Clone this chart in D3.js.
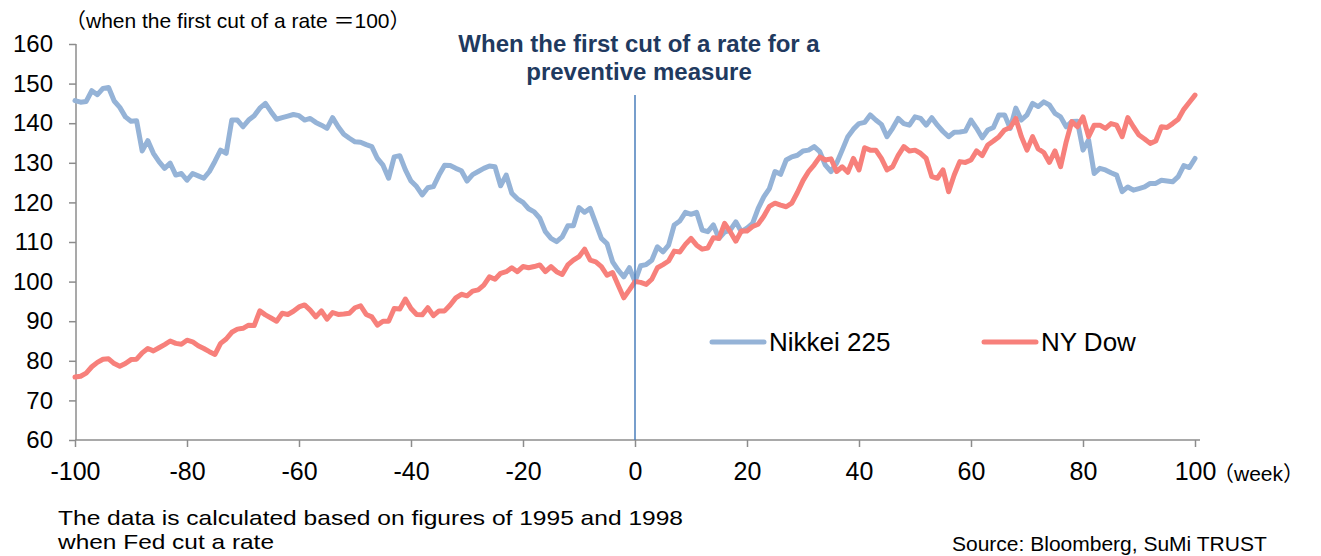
<!DOCTYPE html>
<html>
<head>
<meta charset="utf-8">
<script src="https://cdn.jsdelivr.net/npm/d3@7"></script>
<style>
  body { margin: 0; background: #fff; }
  svg text { font-family: Arial, "Liberation Sans", "Noto Sans CJK JP", sans-serif; }
</style>
</head>
<body>
<div id="chart"></div>
<script>
// Size of the picture
let width = 1321;
let height = 556;

// Weeks from the first cut of a rate (0), one value per week
let weeks = d3.range(-100, 101);

// Nikkei 225, first cut of a rate = 100
let nikkei = [
  145.7, 145.3, 145.5, 148.2, 147.2, 148.8, 149.0, 145.6, 144.0, 141.6,
  140.5, 140.6, 133.0, 135.6, 132.4, 130.3, 128.6, 129.9, 126.9, 127.3,
  125.6, 127.3, 126.7, 126.1, 127.8, 130.4, 133.2, 132.4, 140.8, 140.8,
  139.1, 140.8, 141.9, 143.8, 145.0, 142.9, 141.0, 141.4, 141.8, 142.2,
  141.9, 140.8, 141.2, 140.2, 139.5, 138.7, 141.4, 139.1, 137.2, 136.2,
  135.3, 135.2, 134.6, 134.1, 131.1, 129.4, 126.1, 131.5, 131.8, 128.2,
  125.4, 124.0, 121.9, 123.7, 124.0, 126.9, 129.4, 129.3, 128.6, 128.0,
  125.4, 127.0, 127.8, 128.6, 129.2, 129.0, 124.2, 126.9, 122.3, 120.9,
  120.0, 118.4, 117.6, 116.0, 112.6, 110.9, 110.1, 111.3, 114.1, 114.1,
  118.7, 117.5, 118.5, 114.7, 110.9, 109.6, 105.0, 102.9, 101.2, 103.5,
  100.0, 104.0, 104.3, 105.4, 108.8, 107.5, 109.2, 114.3, 115.3, 117.5,
  117.0, 117.5, 113.0, 112.6, 114.3, 110.9, 112.5, 113.0, 115.1, 112.6,
  113.5, 114.7, 118.5, 121.4, 123.5, 127.8, 127.1, 130.7, 131.5, 131.9,
  133.0, 133.2, 134.1, 132.8, 129.4, 127.8, 129.9, 133.2, 136.6, 138.5,
  139.9, 140.2, 142.1, 140.8, 139.7, 136.6, 138.7, 141.2, 139.9, 139.5,
  141.6, 141.2, 139.5, 141.4, 139.5, 137.9, 136.6, 137.7, 137.8, 138.0,
  140.8, 138.7, 136.3, 138.3, 138.9, 142.1, 142.1, 138.7, 143.8, 140.8,
  142.1, 145.0, 144.2, 145.4, 144.6, 142.5, 141.6, 139.1, 140.4, 140.5,
  133.2, 135.8, 127.3, 128.6, 128.2, 127.5, 126.9, 122.7, 123.9, 123.1,
  123.5, 123.9, 124.8, 124.8, 125.6, 125.4, 125.2, 126.5, 129.3, 128.8,
  131.1
];

// NY Dow, first cut of a rate = 100
let dow = [
  75.9, 76.1, 76.9, 78.5, 79.6, 80.4, 80.5, 79.3, 78.6, 79.3,
  80.3, 80.4, 82.0, 83.1, 82.5, 83.3, 84.1, 85.0, 84.4, 84.2,
  85.2, 84.8, 83.8, 83.1, 82.3, 81.6, 84.4, 85.5, 87.2, 88.0,
  88.2, 89.0, 88.9, 92.6, 91.6, 90.8, 90.0, 92.0, 91.7, 92.5,
  93.6, 94.1, 92.8, 91.1, 92.6, 90.5, 92.2, 91.7, 91.8, 92.0,
  93.4, 93.9, 91.7, 91.1, 89.0, 90.0, 90.0, 93.2, 93.1, 95.6,
  93.2, 91.7, 91.6, 93.4, 91.4, 92.6, 92.6, 94.1, 95.9, 96.8,
  96.4, 97.6, 97.9, 99.1, 101.2, 100.6, 102.1, 102.5, 103.5, 102.5,
  103.8, 103.5, 103.8, 104.2, 102.5, 103.8, 102.5, 101.8, 104.2, 105.4,
  106.3, 108.2, 105.4, 105.0, 103.8, 101.6, 102.3, 99.1, 95.9, 97.9,
  100.0, 99.8, 99.3, 100.6, 103.5, 104.3, 105.2, 107.7, 107.5, 109.4,
  110.9, 109.2, 108.2, 108.5, 111.1, 110.9, 114.7, 112.6, 110.2, 112.8,
  112.8, 113.9, 114.5, 116.5, 119.0, 119.8, 119.3, 118.9, 119.8, 122.5,
  125.5, 127.8, 129.5, 131.5, 130.7, 131.0, 127.8, 129.0, 127.6, 131.1,
  128.2, 133.8, 133.2, 133.2, 131.1, 128.2, 129.0, 131.9, 134.1, 133.0,
  133.2, 132.4, 131.1, 126.5, 126.1, 128.2, 122.7, 126.9, 130.3, 130.1,
  130.7, 133.0, 131.8, 134.5, 135.5, 136.6, 138.3, 138.9, 141.2, 136.6,
  133.2, 136.6, 133.5, 132.6, 130.1, 133.0, 129.0, 135.3, 140.4, 139.1,
  141.6, 136.6, 139.5, 139.5, 138.7, 139.9, 139.5, 136.6, 141.4, 139.1,
  137.0, 136.0, 134.9, 135.5, 139.1, 138.9, 139.9, 141.0, 143.5, 145.3,
  147.1
];

let seriesNames = ["Nikkei 225", "NY Dow"];
let seriesColors = ["#95b3d7", "#f7807b"];

// Tick labels
let xTicks = [-100, -80, -60, -40, -20, 0, 20, 40, 60, 80, 100];
let yTicks = [60, 70, 80, 90, 100, 110, 120, 130, 140, 150, 160];

let x = d3.scaleLinear().domain([-100, 100]).range([75, 1195]);
let y = d3.scaleLinear().domain([60, 160]).range([440, 44]);

let svg = d3.select('#chart')
  .append('svg')
  .attr('width', width)
  .attr('height', height);

let axisColor = '#8c8c8c';

// Y axis
let yAxis = svg.append('g')
  .attr('transform', 'translate(76,0)')
  .call(d3.axisLeft(y).tickValues(yTicks).tickSize(7).tickPadding(16)
    .tickFormat(function(d) { return String(d); }));
yAxis.select('.domain').remove();
yAxis.selectAll('line').attr('stroke', axisColor).attr('stroke-width', 1.5);
yAxis.selectAll('text').attr('font-size', 24).attr('fill', '#000')
  .style('font-family', 'Arial, "Liberation Sans", sans-serif');
yAxis.append('line')
  .attr('x1', 0).attr('x2', 0)
  .attr('y1', y(160)).attr('y2', y(60))
  .attr('stroke', axisColor).attr('stroke-width', 1.5);

// X axis (plain hyphen for negative labels)
let xAxis = svg.append('g')
  .attr('transform', 'translate(0,440)')
  .call(d3.axisBottom(x).tickValues(xTicks).tickSize(7).tickPadding(15)
    .tickFormat(function(d) { return String(d); }));
xAxis.select('.domain').remove();
xAxis.selectAll('line').attr('stroke', axisColor).attr('stroke-width', 1.5);
xAxis.selectAll('text').attr('font-size', 25).attr('fill', '#000')
  .style('font-family', 'Arial, "Liberation Sans", sans-serif');
xAxis.append('line')
  .attr('x1', x(-100)).attr('x2', x(100) + 5)
  .attr('y1', 0).attr('y2', 0)
  .attr('stroke', axisColor).attr('stroke-width', 1.5);

// Series lines, Dow drawn last so it is on top
let line = d3.line()
  .x(function(d, i) { return x(weeks[i]); })
  .y(function(d) { return y(d); });

[nikkei, dow].forEach(function(values, k) {
  svg.append('path')
    .datum(values)
    .attr('d', line)
    .attr('fill', 'none')
    .attr('stroke', seriesColors[k])
    .attr('stroke-width', 5)
    .attr('stroke-linejoin', 'round')
    .attr('stroke-linecap', 'round');
});

// Marker of the first cut
svg.append('line')
  .attr('x1', x(0)).attr('x2', x(0))
  .attr('y1', 95).attr('y2', y(60))
  .attr('stroke', '#4a7ebb')
  .attr('stroke-width', 1.5);

svg.append('text')
  .attr('x', 639).attr('y', 52)
  .attr('text-anchor', 'middle')
  .attr('font-size', 24).attr('font-weight', 'bold')
  .attr('fill', '#1f3a60')
  .text('When the first cut of a rate for a');
svg.append('text')
  .attr('x', 639).attr('y', 80)
  .attr('text-anchor', 'middle')
  .attr('font-size', 24).attr('font-weight', 'bold')
  .attr('fill', '#1f3a60')
  .text('preventive measure');

// Legend
let legendX = [712, 984];
seriesNames.forEach(function(name, k) {
  svg.append('line')
    .attr('x1', legendX[k]).attr('x2', legendX[k] + 52)
    .attr('y1', 342).attr('y2', 342)
    .attr('stroke', seriesColors[k])
    .attr('stroke-width', 5)
    .attr('stroke-linecap', 'round');
  svg.append('text')
    .attr('x', legendX[k] + 57).attr('y', 351)
    .attr('font-size', 26)
    .text(name);
});

// Unit notes
svg.append('text')
  .attr('x', 65).attr('y', 28)
  .attr('font-size', 21)
  .text('（when the first cut of a rate ＝100）');
svg.append('text')
  .attr('x', 1213).attr('y', 481)
  .attr('font-size', 21)
  .text('（week）');

// Foot notes
svg.append('text')
  .attr('x', 58).attr('y', 525)
  .attr('font-size', 21)
  .attr('textLength', 625)
  .attr('lengthAdjust', 'spacingAndGlyphs')
  .text('The data is calculated based on figures of 1995 and 1998');
svg.append('text')
  .attr('x', 58).attr('y', 549)
  .attr('font-size', 21)
  .attr('textLength', 216)
  .attr('lengthAdjust', 'spacingAndGlyphs')
  .text('when Fed cut a rate');
svg.append('text')
  .attr('x', 952).attr('y', 551)
  .attr('font-size', 21)
  .text('Source: Bloomberg, SuMi TRUST');
</script>
</body>
</html>
